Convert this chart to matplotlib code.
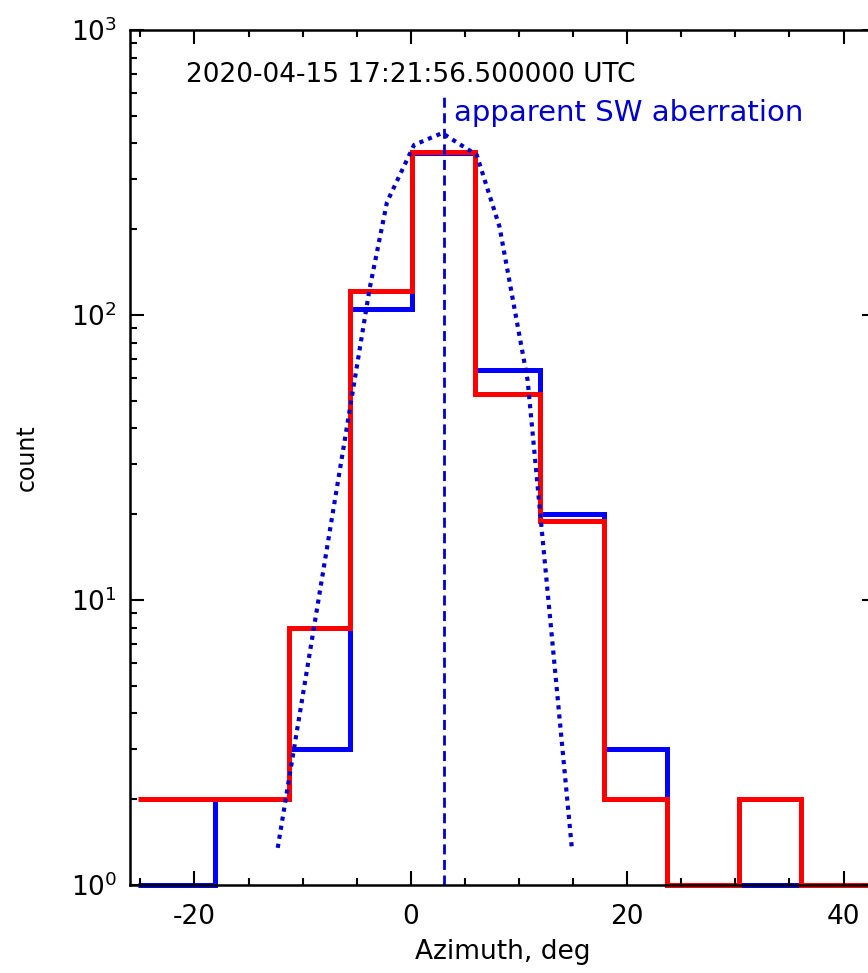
import matplotlib
matplotlib.use("Agg")
import matplotlib.pyplot as plt
from matplotlib.ticker import MultipleLocator, LogLocator

plt.rcParams['font.family'] = 'DejaVu Sans'
plt.rcParams['axes.unicode_minus'] = False

# histogram bin edges (deg) and counts
edges = [-25.2, -18.1, -11.3, -5.6, 0.1, 5.9, 11.9, 17.9, 23.7, 30.3, 36.1, 43.0]
counts_blue = [1, 2, 3, 105, 370, 64, 20, 3, 1, 1, 1]
counts_red = [2, 2, 8, 121, 372, 53, 19, 2, 1, 2, 1]

# dotted fit curve (vertices)
fit_az = [-12.3, -3.8, -2.2, 0.3, 2.9, 6.1, 8.2, 10.8, 14.9]
fit_cnt = [1.35, 124, 249, 395, 435, 364, 204, 59, 1.33]

# apparent solar wind aberration direction
aberr_az = 3.05
aberr_top = 590

timestamp = "2020-04-15 17:21:56.500000 UTC"

fig = plt.figure(figsize=(8.68, 9.73), dpi=100)
# right spine falls just outside the picture, as in the original crop
ax = fig.add_axes([129.5 / 868, 88 / 973, 746.5 / 868, 855 / 973])

ax.stairs(counts_blue, edges, baseline=None, color='blue', lw=3.6, clip_on=False)
ax.stairs(counts_red, edges, baseline=None, color='red', lw=3.6, clip_on=False)
ax.plot(fit_az, fit_cnt, color='mediumblue', lw=3.0, ls=(0, (1.0, 1.2)))
ax.plot([aberr_az, aberr_az], [1, aberr_top], color='mediumblue', lw=2.0,
        ls=(0, (3.6, 2.0)))

ax.set_yscale('log')
ax.set_xlim(-26, 43)
ax.set_ylim(1, 1000)
ax.xaxis.set_major_locator(MultipleLocator(20))
ax.xaxis.set_minor_locator(MultipleLocator(5))
ax.yaxis.set_minor_locator(LogLocator(base=10, subs=range(2, 10)))

ax.tick_params(which='both', direction='in', top=True, right=True,
               width=1.5, labelsize=19)
ax.tick_params(which='major', length=10)
ax.tick_params(which='minor', length=5)
ax.tick_params(axis='x', pad=14)
ax.tick_params(axis='y', pad=9)
for s in ax.spines.values():
    s.set_linewidth(1.8)

ax.set_xlabel('Azimuth, deg', fontsize=19, labelpad=6)
ax.set_ylabel('count', fontsize=17, labelpad=23)

ax.text(0.0757, 0.947, timestamp, transform=ax.transAxes, fontsize=19,
        va='center', ha='left')
ax.text(4.0, 480, 'apparent SW aberration', color='mediumblue', fontsize=21,
        va='baseline', ha='left')

fig.savefig('out.png', dpi=100)
